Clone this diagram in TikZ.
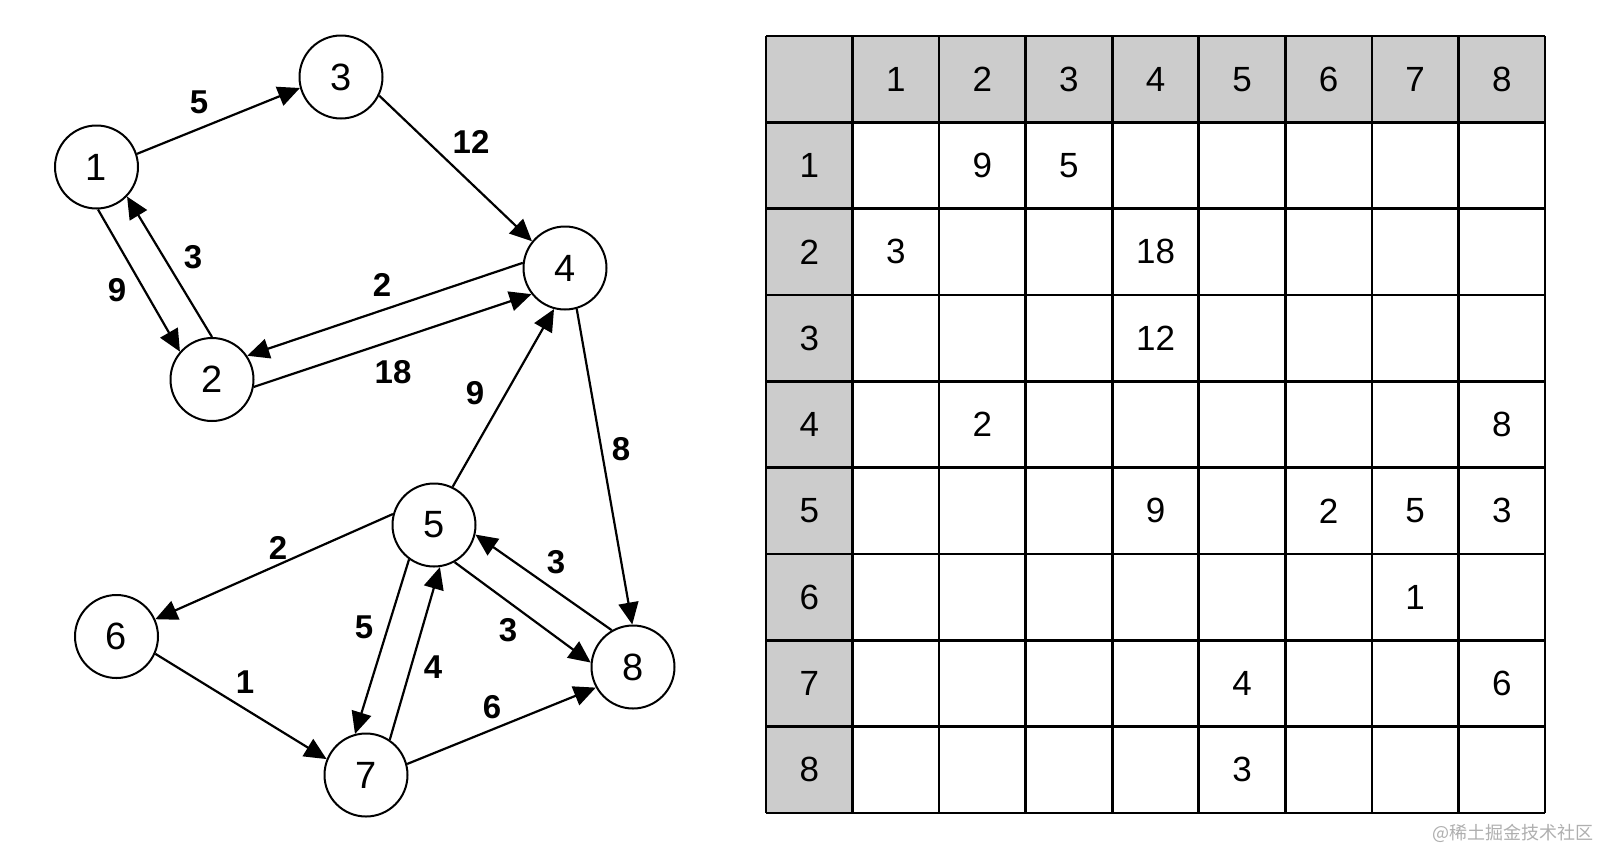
\documentclass[tikz,border=0pt]{standalone}
\usepackage{fontspec}
\setmainfont{Liberation Sans}
\newfontfamily\cjk{Noto Sans CJK SC}
\usetikzlibrary{arrows.meta}
\definecolor{hdr}{RGB}{204,204,204}
\definecolor{wmark}{RGB}{175,175,175}
\begin{document}
\begin{tikzpicture}[x=0.5pt,y=-0.5pt,
  vtx/.style={circle,draw,line width=1pt,minimum size=41.5pt,inner sep=0pt,font=\fontsize{19}{21}\selectfont},
  arc/.style={-{Triangle[length=11pt,width=10pt]},line width=1.1pt},
  wt/.style={font=\fontsize{16.5}{18}\selectfont\bfseries,inner sep=0pt},
  cell/.style={font=\fontsize{17.5}{19}\selectfont,inner sep=0pt},
  gridline/.style={line width=1.3pt}]
\useasboundingbox (0,0) rectangle (1600,852);
\fill[white] (0,0) rectangle (1600,852);

% graph nodes
\node[vtx] (n1) at (96.5,167) {1};
\node[vtx] (n2) at (212,379.5) {2};
\node[vtx] (n3) at (341,77) {3};
\node[vtx] (n4) at (565,268) {4};
\node[vtx] (n5) at (434,525) {5};
\node[vtx] (n6) at (116.5,636.5) {6};
\node[vtx] (n7) at (366,775) {7};
\node[vtx] (n8) at (633,667) {8};

% edges
\draw[arc] (n1.18.6) -- (n3.195);
\draw[arc] (n3.-26) -- (n4.141);
\draw[arc] (n1.-88) -- (n2.139);
\draw[arc] (n2.90) -- (n1.-44);
\draw[arc] (n4.173) -- (n2.34);
\draw[arc] (n2.-10) -- (n4.218);
\draw[arc] (n5.64.6) -- (n4.-105);
\draw[arc] (n4.-74) -- (n8.91);
\draw[arc] (n5.165) -- (n6.24.5);
\draw[arc] (n6.-24.5) -- (n7.158);
\draw[arc] (n5.-126) -- (n7.105);
\draw[arc] (n7.56) -- (n5.-82);
\draw[arc] (n5.-61) -- (n8.174);
\draw[arc] (n8.120) -- (n5.-13);
\draw[arc] (n7.15) -- (n8.209);

% weights
\node[wt] (w13) at (199,102) {5};
\node[wt] (w34) at (471,142) {12};
\node[wt] (w21) at (193,257) {3};
\node[wt] (w12) at (117,290) {9};
\node[wt] (w42) at (382,285) {2};
\node[wt] (w24) at (393,372) {18};
\node[wt] (w54) at (475,393) {9};
\node[wt] (w48) at (621,449) {8};
\node[wt] (w56) at (278,548) {2};
\node[wt] (w85) at (556,562) {3};
\node[wt] (w57) at (364,627) {5};
\node[wt] (w58) at (508,630) {3};
\node[wt] (w75) at (433,667) {4};
\node[wt] (w67) at (245,682) {1};
\node[wt] (w78) at (492,707) {6};

% table
\fill[hdr] (766,36) rectangle (1545,122.33);
\fill[hdr] (766,36) rectangle (852.56,813);
\foreach \i in {0,...,9} {
  \draw[gridline] ({766+\i*86.556},36) -- ({766+\i*86.556},813);
  \draw[gridline] (766,{36+\i*86.333}) -- (1545,{36+\i*86.333});
}
\foreach \k in {1,...,8} {
  \node[cell] (c\k) at ({766+(\k+0.5)*86.556},{36+43.17}) {\k};
  \node[cell] (r\k) at ({766+43.28},{36+(\k+0.5)*86.333}) {\k};
}
\foreach \r/\c/\v in {1/2/9,1/3/5,2/1/3,2/4/18,3/4/12,4/2/2,4/8/8,5/4/9,5/6/2,5/7/5,5/8/3,6/7/1,7/5/4,7/8/6,8/5/3} {
  \node[cell] (e\r\c) at ({766+(\c+0.5)*86.556},{36+(\r+0.5)*86.333}) {\v};
}

% watermark
\node[font=\cjk\fontsize{9}{10}\selectfont,text=wmark,anchor=east,inner sep=0pt] (wm) at (1594,833) {@稀土掘金技术社区};
\end{tikzpicture}
\end{document}
